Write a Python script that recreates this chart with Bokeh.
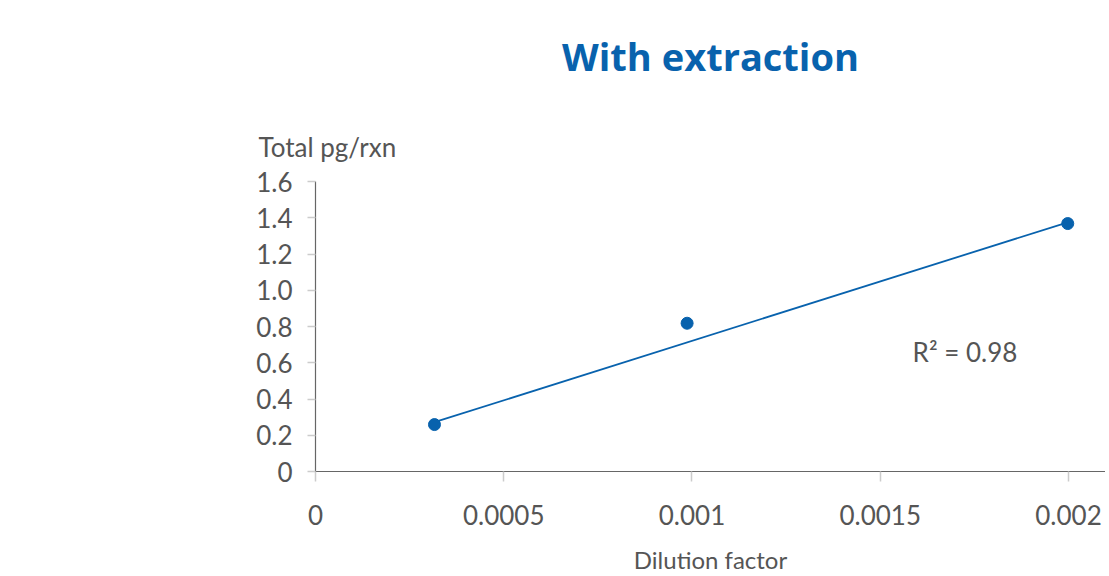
from bokeh.plotting import figure
from bokeh.models import Range1d, FixedTicker, Label, Title
from bokeh.embed import file_html
from bokeh.resources import INLINE

# data
dilution = [0.000316, 0.000987, 0.001998]
total_pg = [0.259, 0.818, 1.368]
trend_x = [0.000316, 0.001998]
trend_y = [0.272, 1.375]
x_ticks = [0, 0.0005, 0.001, 0.0015, 0.002]
x_tick_labels = ["0", "0.0005", "0.001", "0.0015", "0.002"]
y_ticks = [0, 0.2, 0.4, 0.6, 0.8, 1.0, 1.2, 1.4, 1.6]
y_tick_labels = ["0", "0.2", "0.4", "0.6", "0.8", "1.0", "1.2", "1.4", "1.6"]
title_text = "With extraction"
y_label = "Total pg/rxn"
x_label = "Dilution factor"
r2_text = "R\u00b2 = 0.98"
r2_pos = (0.001586, 0.657)

BLUE = "#0862ad"
GRAY = "#555555"
FONT = "Lato"

p = figure(width=1105, height=576, output_backend="svg", toolbar_location=None,
           title=None,
           x_range=Range1d(0, 0.0020983), y_range=Range1d(0, 1.6),
           min_border_left=315, min_border_top=181, min_border_right=0,
           min_border_bottom=105)
p.outline_line_color = None
p.xgrid.visible = False
p.ygrid.visible = False
p.background_fill_color = "white"
p.border_fill_color = "white"

# axes
p.xaxis.ticker = FixedTicker(ticks=x_ticks)
p.xaxis.major_label_overrides = {t: l for t, l in zip(x_ticks, x_tick_labels)}
p.yaxis.ticker = FixedTicker(ticks=y_ticks)
p.yaxis.major_label_overrides = {t: l for t, l in zip(y_ticks, y_tick_labels)}
for ax in (p.xaxis, p.yaxis):
    ax.axis_line_color = "#666666"
    ax.axis_line_width = 1.2
    ax.major_tick_line_color = "#cccccc"
    ax.major_tick_line_width = 1.5
    ax.major_tick_in = 0
    ax.minor_tick_line_color = None
    ax.major_label_text_font = FONT
    ax.major_label_text_font_size = "26px"
    ax.major_label_text_color = GRAY
p.xaxis.major_tick_out = 10
p.yaxis.major_tick_out = 8
p.xaxis.major_label_standoff = 23
p.yaxis.major_label_standoff = 15
p.xaxis.axis_label = x_label
p.xaxis.axis_label_text_font = FONT
p.xaxis.axis_label_text_font_style = "normal"
p.xaxis.axis_label_text_font_size = "24px"
p.xaxis.axis_label_text_color = GRAY
p.xaxis.axis_label_standoff = 17

# data marks
p.line(trend_x, trend_y, line_color=BLUE, line_width=1.8)
p.scatter(dilution, total_pg, size=12, fill_color=BLUE, line_color=BLUE)

# titles (y label above the axis, main title above that)
p.add_layout(Title(text=y_label, align="left", offset=-57, standoff=34,
                   vertical_align="top",
                   text_font=FONT, text_font_style="normal",
                   text_font_size="26px", text_color=GRAY), "above")
p.add_layout(Title(text=title_text, align="center", standoff=59,
                   vertical_align="top",
                   text_font="Open Sans", text_font_style="bold",
                   text_font_size="38px", text_color=BLUE), "above")

p.add_layout(Label(x=r2_pos[0], y=r2_pos[1], text=r2_text,
                   text_font=FONT, text_font_size="26px", text_color=GRAY,
                   text_baseline="middle", text_align="left"))

open("out.html", "w").write(file_html(p, INLINE))
